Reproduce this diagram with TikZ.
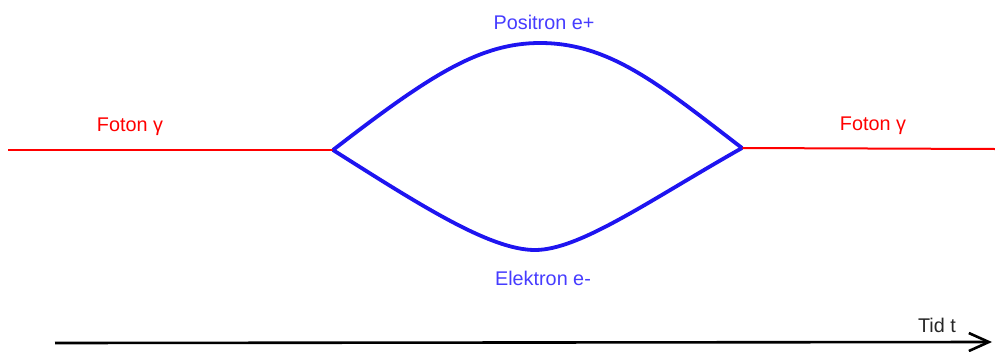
\documentclass[tikz,border=0pt]{standalone}
\usepackage{fontspec}
\setmainfont{Liberation Sans}
\usetikzlibrary{arrows.meta}
\definecolor{PhotonClr}{RGB}{255,0,0}
\definecolor{LeptonClr}{RGB}{30,20,240}
\definecolor{LabelClr}{RGB}{70,60,255}
\begin{document}
\begin{tikzpicture}[x=1pt,y=-1pt,
  photon/.style={line width=2pt,color=PhotonClr},
  lepton/.style={line width=3.8pt,color=LeptonClr,line join=round},
  lbl/.style={font=\fontsize{19.8}{22}\selectfont,inner sep=0pt}]
\useasboundingbox (0,0) rectangle (995,351);

\coordinate (PinA) at (8,150);
\coordinate (VtxL) at (333,150);
\coordinate (VtxR) at (742,148);
\coordinate (PoutB) at (995,149);
\coordinate (TimeA) at (55,343);
\coordinate (TimeB) at (992,342);

% photon lines
\draw[photon] (PinA) -- (VtxL);
\draw[photon] (VtxR) -- (PoutB);

% electron / positron loop
\draw[lepton] (VtxL) .. controls (430,75) and (480,43) .. (540,43)
  .. controls (610,43) and (660,85) .. (VtxR);
\draw[lepton] (VtxL) .. controls (420,205) and (490,250) .. (535,250)
  .. controls (580,250) and (650,200) .. (VtxR);

% labels
\node[lbl,text=PhotonClr] (GamL) at (130,127) {Foton γ};
\node[lbl,text=PhotonClr] (GamR) at (873,126) {Foton γ};
\node[lbl,text=LabelClr] (Pos) at (544,22) {Positron e+};
\node[lbl,text=LabelClr] (Ele) at (543,278) {Elektron e-};
\node[lbl,text=black!85] (Tid) at (937,325) {Tid t};

% time axis
\draw[line width=2.6pt,-{Straight Barb[length=20pt,width=18pt,line width=2.6pt]}] (TimeA) -- (TimeB);
\end{tikzpicture}
\end{document}
